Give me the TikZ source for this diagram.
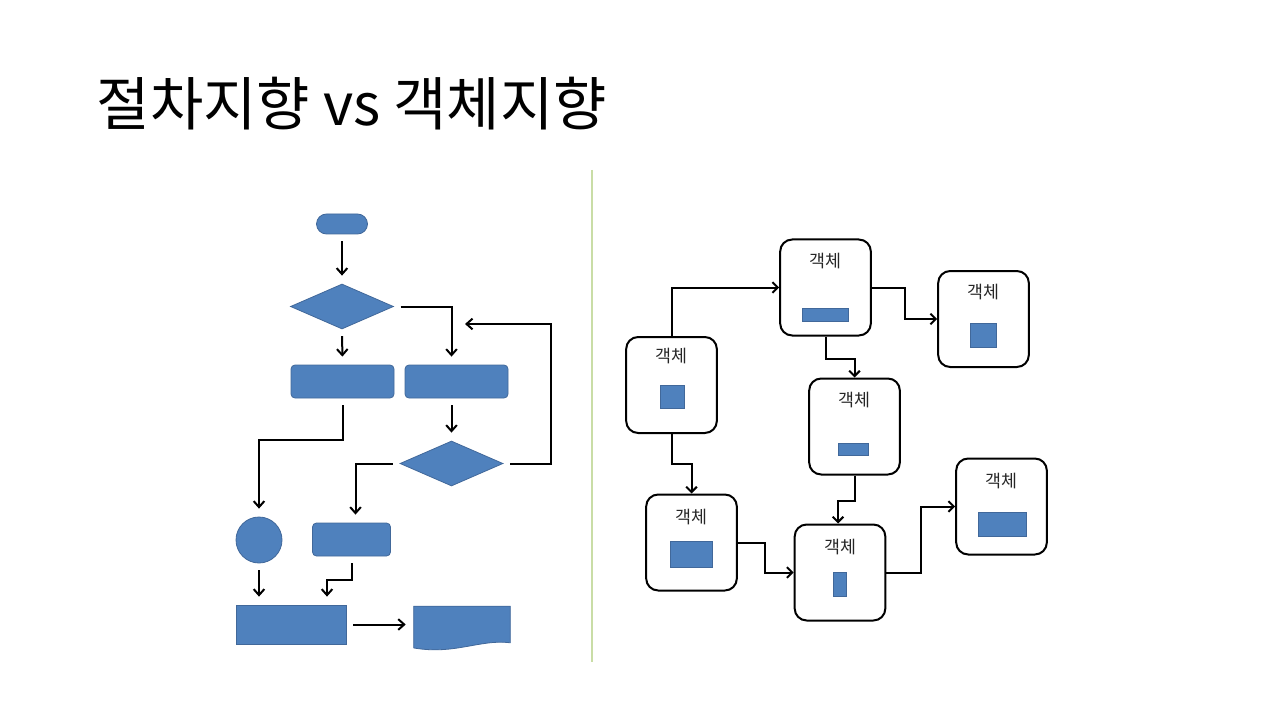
\documentclass[tikz,border=0pt]{standalone}
\usepackage{fontspec}
\setmainfont{Noto Sans CJK KR}
\usetikzlibrary{shapes.geometric,arrows.meta}
\definecolor{boxblue}{HTML}{4F81BD}
\definecolor{boxedge}{HTML}{41689A}
\definecolor{divgreen}{HTML}{C9DDA6}
\tikzset{
  fcshape/.style={fill=boxblue, draw=boxedge, line width=0.6pt, inner sep=0pt},
  flow/.style={-{Straight Barb[length=4.5pt,width=8pt]}, shorten <=5pt, shorten >=6pt, line width=1.5pt},
  objbox/.style={draw, line width=1.5pt, rounded corners=9pt, minimum width=68pt, minimum height=72pt, inner sep=0pt},
  objlabel/.style={font=\fontsize{13}{15}\selectfont, text=black!85},
  objpart/.style={fill=boxblue, draw=boxedge, line width=0.6pt, inner sep=0pt},
  link/.style={-{Straight Barb[length=4pt,width=8pt]}, line width=1.5pt}
}
\begin{document}
\begin{tikzpicture}[x=0.75pt,y=-0.75pt]
			\useasboundingbox (0,0) rectangle (1280,720);
			% title
			\node[anchor=west, font=\fontsize{43.5}{50}\selectfont] (title) at (92,104) {절차지향 vs 객체지향};
			% divider
			\draw[divgreen, line width=1pt] (592,170) -- (592,662);
			% procedural flowchart
			\node[fcshape, rounded corners=7.5pt, minimum width=38.25pt, minimum height=15pt] (start) at (342,224) {};
			\node[fcshape, diamond, minimum width=77.25pt, minimum height=33.75pt] (d1) at (342,306.5) {};
			\node[fcshape, rounded corners=3pt, minimum width=77.25pt, minimum height=24.75pt] (p1) at (342.5,381.5) {};
			\node[fcshape, rounded corners=3pt, minimum width=77.25pt, minimum height=24.75pt] (p2) at (456.5,381.5) {};
			\node[fcshape, diamond, minimum width=77.25pt, minimum height=33.75pt] (d2) at (451.5,463.5) {};
			\node[fcshape, circle, minimum size=34.5pt] (c1) at (259,540) {};
			\node[fcshape, rounded corners=3pt, minimum width=58.5pt, minimum height=24.75pt] (p3) at (351.5,539.5) {};
			\node[fcshape, minimum width=82.5pt, minimum height=29.25pt] (p4) at (291,624.5) {};
			\node[minimum width=72pt, minimum height=27pt, inner sep=0pt] (doc) at (462,624.5) {};
			\filldraw[fill=boxblue, draw=boxedge, line width=0.6pt] (doc.south west) ++(0,5) -- (doc.north west) -- (doc.north east) -- (doc.south east)
				.. controls (480,639) and (455,655) .. (414,648) -- cycle;
			\coordinate (loopend) at (457,324);
			\draw[flow] (start.south) -- (d1.north);
			\draw[flow] (d1.south) -- (p1.north);
			\draw[flow] (d1.east) -| (p2.north -| d2.north);
			\draw[flow] (p2.south -| d2.north) -- (d2.north);
			\draw[flow] (d2.east) -- ++(48,0) |- (loopend);
			\draw[flow] (p1.south) -- ++(0,42) -| (c1.north);
			\draw[flow] (d2.west) -| ([xshift=3pt]p3.north);
			\draw[flow] (c1.south) -- (c1.south |- p4.north);
			\draw[flow] (p3.south) -- ++(0,24) -| ([xshift=27pt]p4.north);
			\draw[flow] (p4.east) -- (doc.west);
			% object oriented
			\node[objbox] (oa) at (671.5,385) {};
			\node[objbox] (ob) at (825.5,287.5) {};
			\node[objbox] (oc) at (983.5,319) {};
			\node[objbox] (od) at (854.5,426.5) {};
			\node[objbox] (oe) at (691.5,542.5) {};
			\node[objbox] (of) at (840,572.5) {};
			\node[objbox] (og) at (1001.5,506.5) {};
			\node[objlabel] (la) at (671.5,356) {객체};
			\node[objlabel] (lb) at (825.5,261) {객체};
			\node[objlabel] (lc) at (983.5,292) {객체};
			\node[objlabel] (ld) at (854.5,400) {객체};
			\node[objlabel] (le) at (691.5,517) {객체};
			\node[objlabel] (lf) at (840,547) {객체};
			\node[objlabel] (lg) at (1001.5,481) {객체};
			\node[objpart, minimum width=18pt, minimum height=17.5pt] (ia) at (672,397) {};
			\node[objpart, minimum width=35pt, minimum height=9.75pt] (ib) at (825.5,314.5) {};
			\node[objpart, minimum width=19.5pt, minimum height=18pt] (ic) at (983,335) {};
			\node[objpart, minimum width=23pt, minimum height=9pt] (id) at (853.5,449) {};
			\node[objpart, minimum width=31pt, minimum height=19.5pt] (ie) at (691.5,554) {};
			\node[objpart, minimum width=9.75pt, minimum height=18pt] (if) at (839.5,584) {};
			\node[objpart, minimum width=36pt, minimum height=18pt] (ig) at (1002,524) {};
			\draw[link] (oa.north) |- (ob.west);
			\draw[link] (ob.east) -- ++(33,0) |- (oc.west);
			\draw[link] (ob.south) -- ++(0,22) -| (od.north);
			\draw[link] (oa.south) -- ++(0,30) -| (oe.north);
			\draw[link] (oe.east) -- ++(27,0) |- (of.west);
			\draw[link] (od.south) -- ++(0,25) -| ([xshift=-1.5pt]of.north);
			\draw[link] (of.east) -- ++(35,0) |- (og.west);
		\end{tikzpicture}
\end{document}
